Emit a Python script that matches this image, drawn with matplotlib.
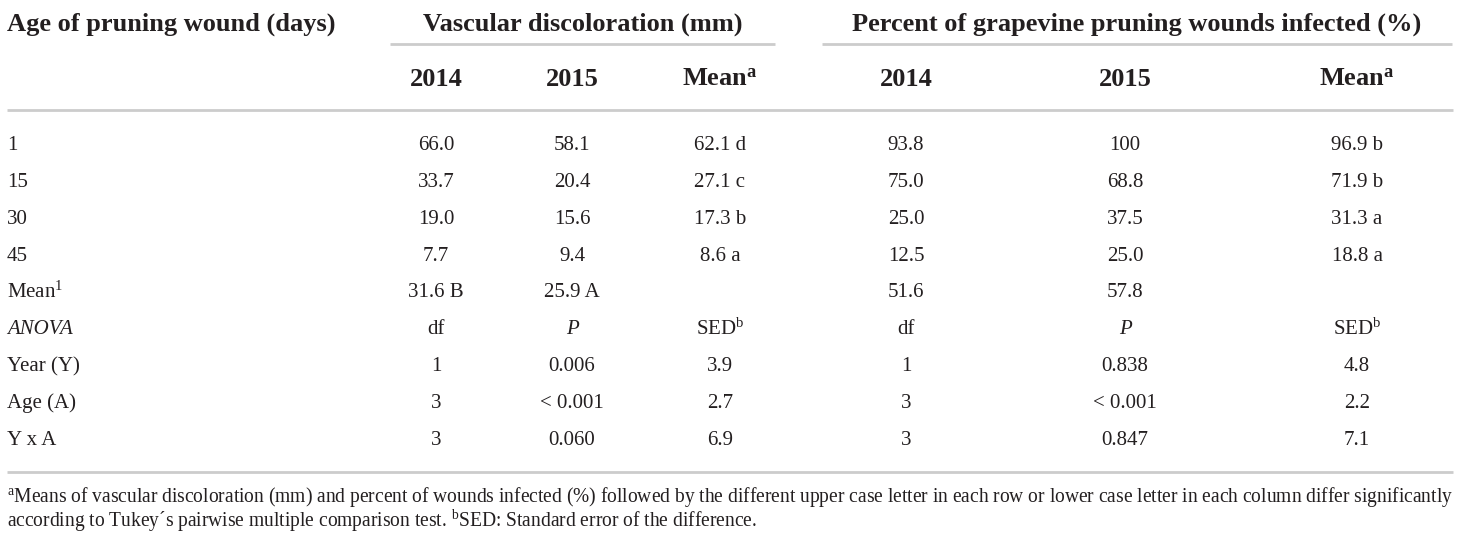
import matplotlib
matplotlib.use("Agg")
import matplotlib.pyplot as plt

# ---------------- data ----------------
row_labels = ["1", "15", "30", "45", "Mean$^{\\mathrm{1}}$", "ANOVA", "Year (Y)", "Age (A)", "Y x A"]
vd_2014 = ["66.0", "33.7", "19.0", "7.7", "31.6 B", "df", "1", "3", "3"]
vd_2015 = ["58.1", "20.4", "15.6", "9.4", "25.9 A", "P", "0.006", "< 0.001", "0.060"]
vd_mean = ["62.1 d", "27.1 c", "17.3 b", "8.6 a", "", "SED$^{\\mathrm{b}}$", "3.9", "2.7", "6.9"]
pi_2014 = ["93.8", "75.0", "25.0", "12.5", "51.6", "df", "1", "3", "3"]
pi_2015 = ["100", "68.8", "37.5", "25.0", "57.8", "P", "0.838", "< 0.001", "0.847"]
pi_mean = ["96.9 b", "71.9 b", "31.3 a", "18.8 a", "", "SED$^{\\mathrm{b}}$", "4.8", "2.2", "7.1"]

col_header = "Age of pruning wound (days)"
group_headers = ["Vascular discoloration (mm)", "Percent of grapevine pruning wounds infected (%)"]
sub_headers = ["2014", "2015", "$\\mathbf{Mean}^{\\mathbf{a}}$", "2014", "2015", "$\\mathbf{Mean}^{\\mathbf{a}}$"]
italic_cells = {"ANOVA", "P"}

footnote_1 = ("$^{\\mathrm{a}}$Means of vascular discoloration (mm) and percent of wounds infected (%) followed by the "
              "different upper case letter in each row or lower case letter in each column differ significantly")
footnote_2 = ("according to Tukey\u00b4s pairwise multiple comparison test. $^{\\mathrm{b}}$SED: Standard error of the difference.")

# ---------------- style ----------------
plt.rcParams["font.family"] = ["Liberation Serif", "DejaVu Serif"]
plt.rcParams["mathtext.fontset"] = "custom"
plt.rcParams["mathtext.rm"] = "Liberation Serif"
plt.rcParams["mathtext.it"] = "Liberation Serif:italic"
plt.rcParams["mathtext.bf"] = "Liberation Serif:bold"

TXT = "#231f20"
LINE = "#cccccc"
W, H = 1460, 538
fig = plt.figure(figsize=(W / 100, H / 100), dpi=100)
ax = fig.add_axes([0, 0, 1, 1])
ax.set_xlim(0, W)
ax.set_ylim(H, 0)
ax.axis("off")

body_fs = 15
head_fs = 19

left_x = 7
col_x = [436, 572, 720, 906, 1125, 1357]
group_spans = [(390, 775), (822, 1452)]

y_head1 = 22
y_head2 = 77
y_rows = [143 + 36.9 * i for i in range(len(row_labels))]

def base(yc, fs):
    # baseline for a visual centre yc (approx. half cap height below)
    return yc + fs * 100 / 72 * 0.33

# header row 1
ax.text(left_x, base(y_head1, head_fs), col_header, fontsize=head_fs, fontweight="bold",
        color=TXT, ha="left", va="baseline")
for (x0, x1), g in zip(group_spans, group_headers):
    ax.text((x0 + x1) / 2, base(y_head1, head_fs), g, fontsize=head_fs, fontweight="bold",
            color=TXT, ha="center", va="baseline")
    ax.plot([x0, x1], [44, 44], color=LINE, lw=2, solid_capstyle="butt")

# header row 2
for x, s in zip(col_x, sub_headers):
    ax.text(x, base(y_head2, head_fs), s, fontsize=head_fs, fontweight="bold",
            color=TXT, ha="center", va="baseline")
ax.plot([left_x, 1453], [110, 110], color=LINE, lw=2, solid_capstyle="butt")

# body
columns = [vd_2014, vd_2015, vd_mean, pi_2014, pi_2015, pi_mean]
for i, lab in enumerate(row_labels):
    yb = base(y_rows[i], body_fs)
    ax.text(left_x, yb, lab, fontsize=body_fs, color=TXT, ha="left", va="baseline",
            style="italic" if lab in italic_cells else "normal")
    for x, col in zip(col_x, columns):
        s = col[i]
        if s:
            ax.text(x, yb, s, fontsize=body_fs, color=TXT, ha="center", va="baseline",
                    style="italic" if s in italic_cells else "normal")

ax.plot([left_x, 1453], [472, 472], color=LINE, lw=2, solid_capstyle="butt")

# footnotes, fitted to the table width
fn_fs = 13.0
fn_y = (496, 520)
t1 = ax.text(left_x, base(fn_y[0], fn_fs), footnote_1, fontsize=fn_fs, color=TXT, ha="left", va="baseline")
t2 = ax.text(left_x, base(fn_y[1], fn_fs), footnote_2, fontsize=fn_fs, color=TXT, ha="left", va="baseline")
r = fig.canvas.get_renderer()
w1 = t1.get_window_extent(r).width
fn_fs = fn_fs * (1443 / w1)
for t, yc in ((t1, fn_y[0]), (t2, fn_y[1])):
    t.set_fontsize(fn_fs)
    t.set_y(base(yc, fn_fs))

fig.savefig("out.png", dpi=100, facecolor="white")
